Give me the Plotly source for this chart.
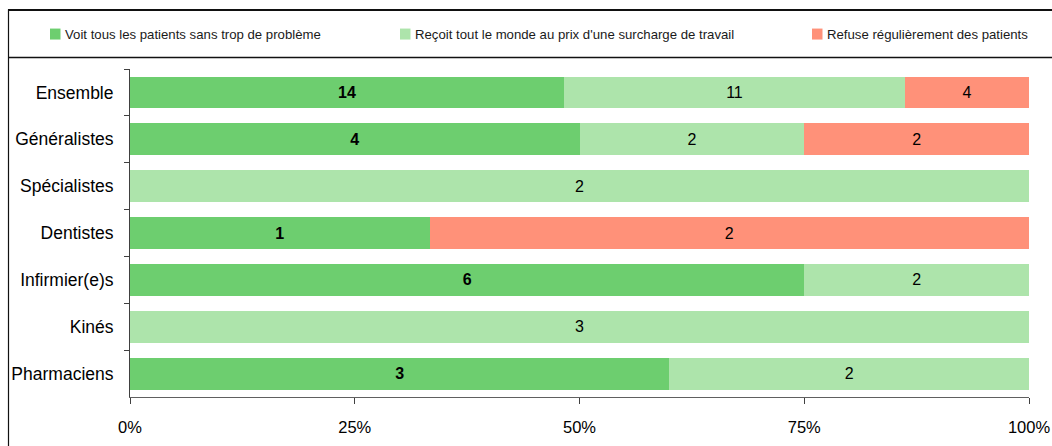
import plotly.graph_objects as go

categories = ["Ensemble", "Généralistes", "Spécialistes", "Dentistes",
              "Infirmier(e)s", "Kinés", "Pharmaciens"]
series_names = ["Voit tous les patients sans trop de problème",
                "Reçoit tout le monde au prix d'une surcharge de travail",
                "Refuse régulièrement des patients"]
voit = [14, 4, 0, 1, 6, 0, 3]
recoit = [11, 2, 2, 0, 2, 3, 2]
refuse = [4, 2, 0, 2, 0, 0, 0]
x_ticks = [0, 25, 50, 75, 100]
x_tick_labels = ["0%", "25%", "50%", "75%", "100%"]

colors = ["#6DCE6F", "#ADE4AB", "#FF9179"]
FONT = "Liberation Sans, Arial, sans-serif"

W, H = 1052, 446
L, R, T, B = 130, 23, 68.5, 49
pw, ph = W - L - R, H - T - B

def px_x(x):
    return (x - L) / pw

def px_y(y):
    return (H - B - y) / ph

# legend swatch left edges (px)
legend_x_px = [50, 400, 812]

fig = go.Figure()
for name, vals, col, bold in zip(series_names, [voit, recoit, refuse], colors,
                                 [True, False, False]):
    fig.add_trace(go.Bar(
        y=categories, x=vals, name=name, orientation="h",
        marker=dict(color=col, line=dict(width=0)),
        text=[str(v) if v else "" for v in vals],
        textposition="inside", insidetextanchor="middle", textangle=0,
        textfont=dict(family=FONT, size=16, color="black",
                      weight="bold" if bold else "normal"),
        hoverinfo="skip", showlegend=False,
    ))

# manual legend: swatch + text
for name, col, lx in zip(series_names, colors, legend_x_px):
    fig.add_shape(type="rect", xref="paper", yref="paper",
                  x0=px_x(lx), x1=px_x(lx + 10.5), y0=px_y(28), y1=px_y(39),
                  fillcolor=col, line=dict(width=0), layer="above")
    fig.add_annotation(xref="paper", yref="paper", x=px_x(lx + 13),
                       y=px_y(33.5), xanchor="left", yanchor="middle",
                       text=name, showarrow=False,
                       font=dict(family=FONT, size=13.2, color="#1a1a1a"))

fig.update_layout(
    width=W, height=H,
    margin=dict(l=L, r=R, t=T, b=B, autoexpand=False),
    barmode="stack", barnorm="percent", bargap=0.32,
    paper_bgcolor="white", plot_bgcolor="white",
    font=dict(family=FONT, size=16, color="black"),
    showlegend=False,
)
fig.update_yaxes(
    type="category", categoryorder="array", categoryarray=categories,
    autorange="reversed", tickson="boundaries", ticks="outside", ticklen=5,
    tickcolor="#404040", showline=True, linecolor="#404040", linewidth=1,
    showgrid=False, tickfont=dict(family=FONT, size=17.5, color="black"),
    ticklabelstandoff=12, automargin=False,
)
fig.update_xaxes(
    range=[0, 100], tickvals=x_ticks, ticktext=x_tick_labels,
    ticks="outside", ticklen=6, tickcolor="#404040",
    showline=True, linecolor="#606060", linewidth=1, showgrid=False,
    zeroline=False, tickfont=dict(family=FONT, size=16.5, color="black"),
    ticklabelstandoff=9, automargin=False,
)

# frame lines (top, legend separator, left)
fig.add_shape(type="line", xref="paper", yref="paper",
              x0=px_x(8), x1=px_x(W + 5), y0=px_y(9.5), y1=px_y(9.5),
              line=dict(color="#111", width=2))
fig.add_shape(type="line", xref="paper", yref="paper",
              x0=px_x(8), x1=px_x(W + 5), y0=px_y(57), y1=px_y(57),
              line=dict(color="#111", width=1.5))
fig.add_shape(type="line", xref="paper", yref="paper",
              x0=px_x(8.5), x1=px_x(8.5), y0=px_y(9), y1=px_y(H + 5),
              line=dict(color="#111", width=1.2))

fig.write_html("out.html")
